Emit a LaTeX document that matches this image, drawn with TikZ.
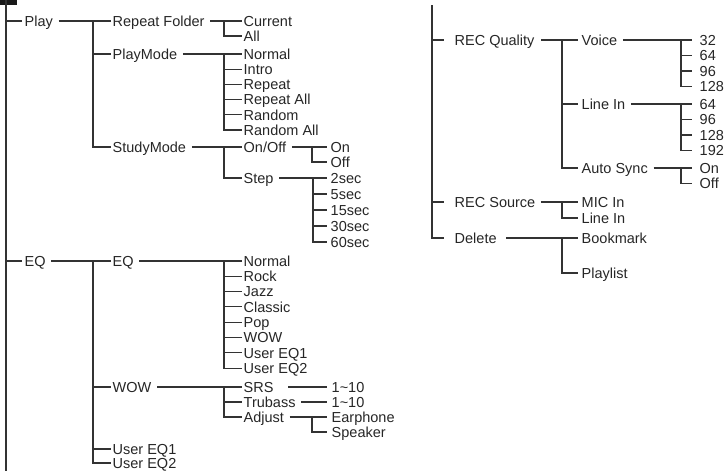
\documentclass[tikz,border=0pt]{standalone}
\usepackage{fontspec}
\setmainfont{Liberation Sans}
\begin{document}
\begin{tikzpicture}[x=1pt,y=-1pt,font=\fontsize{14.5}{15}\selectfont,
  link/.style={draw=black!80,line width=1.1pt},
  item/.style={anchor=west,inner xsep=1.5pt,inner ysep=0pt,
    text height=10.5pt,text depth=0pt,text=black!85},
  tailgap/.style={shorten <=#1},
  headgap/.style={shorten >=#1}]
  \useasboundingbox (0,0) rectangle (727,471);
  \fill[black!90] (0,0) rectangle (17,5);

  % left trunk
  \coordinate (ltop) at (6,0);
  \coordinate (lbot) at (6,471);
  \draw[link] (ltop) -- (lbot);
  \node[item] (play) at (23,21) {Play};
  \node[item] (eq) at (23,261) {EQ};
  \foreach \top in {play,eq}
    \draw[link,headgap=1.5pt] (ltop) |- (\top.west);

  % Play
  \node[item] (repfold) at (111,21) {Repeat Folder};
  \node[item] (playmode) at (111,54) {PlayMode};
  \node[item] (studymode) at (111,147) {StudyMode};
  \coordinate (playfork) at (93,21);
  \draw[link,tailgap=4pt] (play.east) -- (repfold.west);
  \foreach \kid in {playmode,studymode}
    \draw[link] (playfork) |- (\kid.west);

  \node[item] (current) at (242,21) {Current};
  \node[item] (all) at (242,36) {All};
  \coordinate (repfork) at (224,21);
  \draw[link,tailgap=4pt] (repfold.east) -- (current.west);
  \draw[link] (repfork) |- (all.west);

  \foreach \mode [count=\i] in {Normal,Intro,Repeat,Repeat All,Random,Random All}
    \node[item] (mode\i) at (242,{54+15.2*(\i-1)}) {\mode};
  \coordinate (modefork) at (224,54);
  \draw[link,tailgap=4pt] (playmode.east) -- (mode1.west);
  \foreach \i in {2,...,6}
    \draw[link] (modefork) |- (mode\i.west);

  \node[item] (onoff) at (242,147) {On/Off};
  \node[item] (stepset) at (242,178) {Step};
  \coordinate (studyfork) at (224,147);
  \draw[link,tailgap=4pt] (studymode.east) -- (onoff.west);
  \draw[link] (studyfork) |- (stepset.west);

  \node[item] (on) at (329,147) {On};
  \node[item] (off) at (329,162) {Off};
  \coordinate (onofffork) at (312,147);
  \draw[link,tailgap=4pt,headgap=2.5pt] (onoff.east) -- (on.west);
  \draw[link,headgap=2.5pt] (onofffork) |- (off.west);

  \foreach \sec [count=\i] in {2sec,5sec,15sec,30sec,60sec}
    \node[item] (sec\i) at (329,{178+16*(\i-1)}) {\sec};
  \coordinate (stepfork) at (313,178);
  \draw[link,tailgap=4pt,headgap=2.5pt] (stepset.east) -- (sec1.west);
  \foreach \i in {2,...,5}
    \draw[link,headgap=2.5pt] (stepfork) |- (sec\i.west);

  % EQ
  \node[item] (eqset) at (111,261) {EQ};
  \node[item] (wow) at (111,387) {WOW};
  \node[item] (usereqa) at (111,449) {User EQ1};
  \node[item] (usereqb) at (111,463) {User EQ2};
  \coordinate (eqfork) at (93,261);
  \draw[link,tailgap=4pt] (eq.east) -- (eqset.west);
  \foreach \kid in {wow,usereqa,usereqb}
    \draw[link] (eqfork) |- (\kid.west);

  \foreach \preset [count=\i] in {Normal,Rock,Jazz,Classic,Pop,WOW,User EQ1,User EQ2}
    \node[item] (preset\i) at (242,{261+15.3*(\i-1)}) {\preset};
  \coordinate (presetfork) at (224,261);
  \draw[link,tailgap=4pt] (eqset.east) -- (preset1.west);
  \foreach \i in {2,...,8}
    \draw[link] (presetfork) |- (preset\i.west);

  \node[item] (srs) at (242,387) {SRS};
  \node[item] (trubass) at (242,402) {Trubass};
  \node[item] (adjust) at (242,417) {Adjust};
  \coordinate (wowfork) at (224,387);
  \draw[link,tailgap=4pt] (wow.east) -- (srs.west);
  \foreach \kid in {trubass,adjust}
    \draw[link] (wowfork) |- (\kid.west);

  \node[item] (srsval) at (330,387) {1\textasciitilde10};
  \node[item] (trubassval) at (330,402) {1\textasciitilde10};
  \draw[link,tailgap=13pt,headgap=3.5pt] (srs.east) -- (srsval.west);
  \draw[link,tailgap=4pt,headgap=3.5pt] (trubass.east) -- (trubassval.west);

  \node[item] (earphone) at (330,417) {Earphone};
  \node[item] (speaker) at (330,432) {Speaker};
  \coordinate (adjustfork) at (312,417);
  \draw[link,tailgap=4pt,headgap=3.5pt] (adjust.east) -- (earphone.west);
  \draw[link,headgap=3.5pt] (adjustfork) |- (speaker.west);

  % right trunk
  \coordinate (rtop) at (432,5);
  \node[item] (recq) at (453,40) {REC Quality};
  \node[item] (recsrc) at (453,202) {REC Source};
  \node[item] (delete) at (453,238) {Delete};
  \foreach \top in {recq,recsrc,delete}
    \draw[link,headgap=9.5pt] (rtop) |- (\top.west);

  % REC Quality
  \node[item] (voice) at (580,40) {Voice};
  \node[item] (linein) at (580,104) {Line In};
  \node[item] (autosync) at (580,168) {Auto Sync};
  \coordinate (qualfork) at (562,40);
  \draw[link,tailgap=5pt,headgap=2.5pt] (recq.east) -- (voice.west);
  \foreach \kid in {linein,autosync}
    \draw[link,headgap=2.5pt] (qualfork) |- (\kid.west);

  \foreach \rate [count=\i] in {32,64,96,128}
    \node[item] (voicerate\i) at (698,{40+15.5*(\i-1)}) {\rate};
  \coordinate (voicefork) at (681,40);
  \draw[link,tailgap=4pt,headgap=6.5pt] (voice.east) -- (voicerate1.west);
  \foreach \i in {2,3,4}
    \draw[link,headgap=6.5pt] (voicefork) |- (voicerate\i.west);

  \foreach \rate [count=\i] in {64,96,128,192}
    \node[item] (linerate\i) at (698,{104+15.5*(\i-1)}) {\rate};
  \coordinate (linefork) at (681,104);
  \draw[link,tailgap=4pt,headgap=6.5pt] (linein.east) -- (linerate1.west);
  \foreach \i in {2,3,4}
    \draw[link,headgap=6.5pt] (linefork) |- (linerate\i.west);

  \node[item] (syncon) at (698,168) {On};
  \node[item] (syncoff) at (698,183.5) {Off};
  \coordinate (syncfork) at (681,168);
  \draw[link,tailgap=4pt,headgap=6.5pt] (autosync.east) -- (syncon.west);
  \draw[link,headgap=6.5pt] (syncfork) |- (syncoff.west);

  % REC Source, Delete
  \node[item] (micin) at (580,202) {MIC In};
  \node[item] (srcline) at (580,218) {Line In};
  \coordinate (srcfork) at (562,202);
  \draw[link,tailgap=4pt,headgap=2.5pt] (recsrc.east) -- (micin.west);
  \draw[link,headgap=2.5pt] (srcfork) |- (srcline.west);

  \node[item] (bookmark) at (580,238) {Bookmark};
  \node[item] (playlist) at (580,273) {Playlist};
  \coordinate (delfork) at (562,238);
  \draw[link,tailgap=8pt,headgap=2.5pt] (delete.east) -- (bookmark.west);
  \draw[link,headgap=2.5pt] (delfork) |- (playlist.west);
\end{tikzpicture}
\end{document}
